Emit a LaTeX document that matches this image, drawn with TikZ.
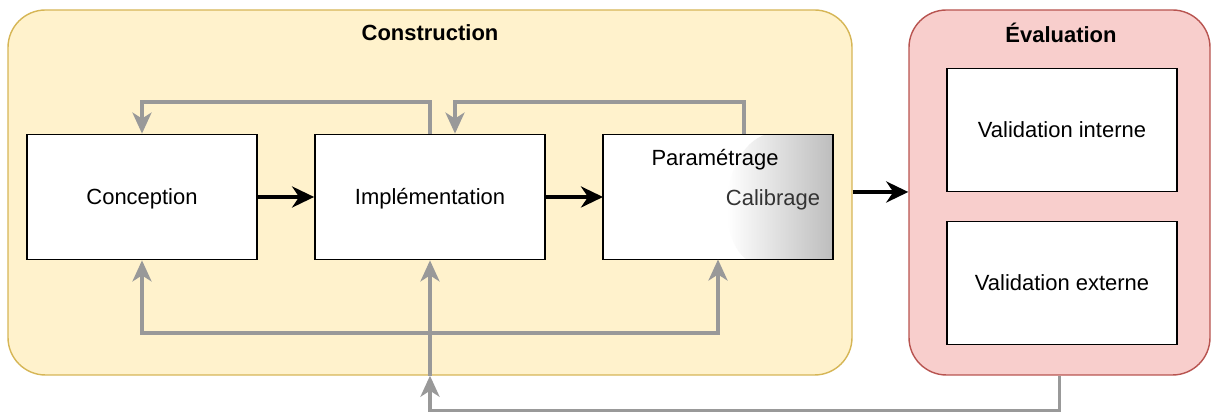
\documentclass[tikz,border=0pt]{standalone}
\usepackage{fontspec}
\setmainfont{Liberation Sans}
\usetikzlibrary{arrows.meta, positioning, calc}
\definecolor{buildFill}{HTML}{FFF2CC}
\definecolor{buildLine}{HTML}{D6B656}
\definecolor{evalFill}{HTML}{F8CECC}
\definecolor{evalLine}{HTML}{B85450}
\definecolor{loopGray}{HTML}{999999}
\definecolor{softText}{HTML}{333333}
\definecolor{calibGray}{HTML}{BDBDBD}

\begin{document}
\begin{tikzpicture}[
  font=\fontsize{12.5}{15}\selectfont,
  every node/.style={align=center},
  container/.style={rectangle, rounded corners=0.75cm, line width=0.8pt},
  box/.style={rectangle, draw=black, line width=1pt, fill=white,
              minimum width=4.6cm, minimum height=2.5cm, inner sep=0pt,
              text height=2.2ex, text depth=0.6ex},
  title/.style={font=\fontsize{12.5}{15}\selectfont\bfseries},
  arrow/.style={-{Stealth[length=4.4mm, width=4.2mm, inset=1.4mm]},
                draw=black, line width=2.2pt},
  feedback/.style={-{Stealth[length=4.2mm, width=3.8mm, inset=1.2mm]},
                   draw=loopGray, line width=2pt},
]
\useasboundingbox (0,0) rectangle (24.24,8.24);

% ── Grid coordinates ───────────────────────────────────────────────
\def\rowM{4.3}      % row of the three construction steps
\def\topY{6.2}      % upper feedback lane
\def\hubY{1.58}     % lower feedback lane

% ── Containers ─────────────────────────────────────────────────────
\node[container, fill=buildFill, draw=buildLine, minimum width=16.88cm,
      minimum height=7.3cm] (build) at (8.6,4.39) {};
\node[container, fill=evalFill, draw=evalLine, minimum width=6.02cm,
      minimum height=7.3cm] (evaluation) at (21.19,4.39) {};
\node[title] (buildTitle) at (8.6,7.58) {Construction};
\node[title] (evalTitle)  at (21.22,7.58) {Évaluation};

% ── Steps ──────────────────────────────────────────────────────────
\node[box] (conception) at (2.84,\rowM) {Conception};
\node[box] (implementation) at (8.6,\rowM) {Implémentation};
\node[box, draw=none, outer sep=0pt] (param) at (14.36,\rowM) {};

% gradient patch on the right of the calibration box
\begin{scope}
  \clip (param.south west) rectangle (param.north east);
  \shade[left color=white, right color=calibGray]
    (param.north east) -- (15.34,5.56)
    .. controls (14.8,5.4) and (14.54,4.7) .. (14.54,4.1)
    .. controls (14.54,3.6) and (14.7,3.2) .. (14.95,3.04)
    -- (param.south east) -- cycle;
\end{scope}
\draw[line width=1pt] (param.south west) rectangle (param.north east);
\node (paramText) at (14.3,5.04) {Paramétrage};
\node[text=softText] (calibText) at (15.46,4.24) {Calibrage};

\node[box, minimum height=2.46cm] (internal) at (21.24,5.64) {Validation interne};
\node[box, minimum height=2.46cm] (external) at (21.24,2.58) {Validation externe};

% ── Main flow ──────────────────────────────────────────────────────
\draw[arrow] (conception) -- (implementation);
\draw[arrow] (implementation) -- (param);
\draw[arrow] ($(build.east)+(0,0.01)$) -- ($(evaluation.west)+(0,0.01)$);

% ── Upper feedback ─────────────────────────────────────────────────
\coordinate (topLane) at (0,\topY);
\coordinate (paramUp) at ($(param.north)+(0.52,0)$);
\coordinate (implIn)  at ($(implementation.north)+(0.5,0)$);
\draw[feedback] (implementation.north) -- (implementation.north |- topLane)
                -| (conception.north);
\draw[feedback] (paramUp) -- (paramUp |- topLane) -| (implIn);

% ── Lower feedback ─────────────────────────────────────────────────
\coordinate (hub) at (8.6,\hubY);
\draw[feedback] (evaluation.south) -- ++(0,-0.7) -| (build.south);
\draw[feedback] (build.south) -- (implementation.south);
\draw[feedback] (hub) -| (conception.south);
\draw[feedback] (hub) -| (param.south);

\end{tikzpicture}
\end{document}
